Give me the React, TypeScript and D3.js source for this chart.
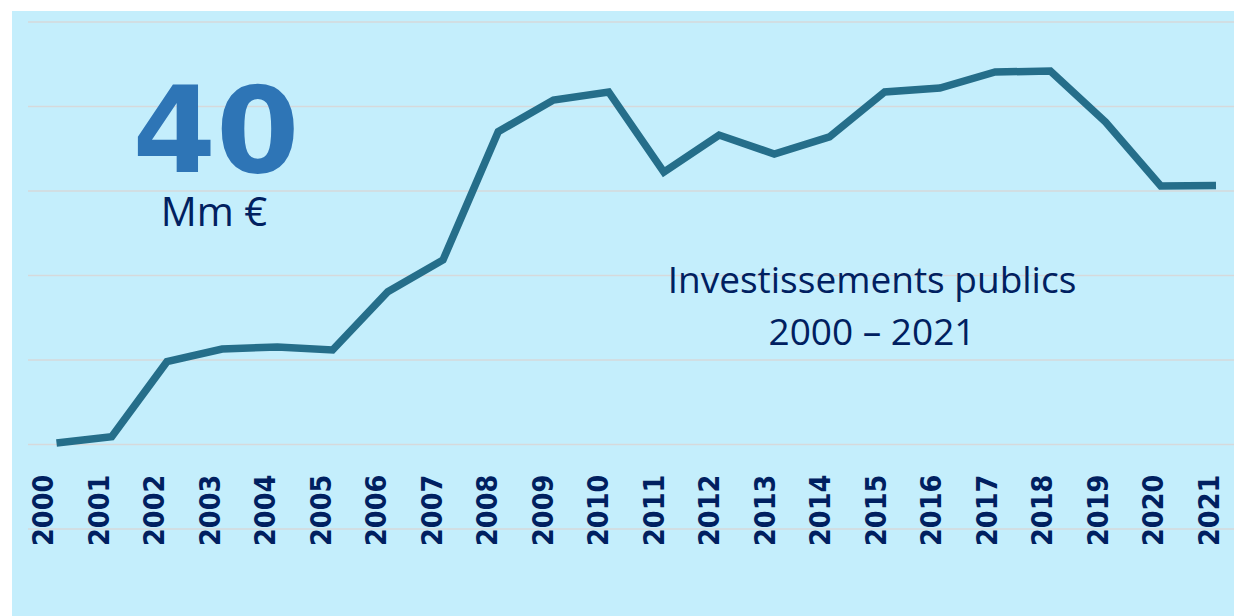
import React, { useEffect, useRef } from "react";
import * as d3 from "d3";

const years: string[] = [
  "2000", "2001", "2002", "2003", "2004", "2005", "2006", "2007", "2008", "2009", "2010",
  "2011", "2012", "2013", "2014", "2015", "2016", "2017", "2018", "2019", "2020", "2021",
];
const investment: number[] = [
  5.09, 5.46, 9.9, 10.65, 10.77, 10.59, 14.04, 15.92, 23.51, 25.38, 25.86,
  21.12, 23.31, 22.19, 23.2, 25.86, 26.09, 27.04, 27.1, 24.08, 20.3, 20.33,
];
const gridTicks: number[] = [0, 5, 10, 15, 20, 25, 30];
const bigValue = "40";
const unitLabel = "Mm €";
const titleLines: string[] = ["Investissements publics", "2000 – 2021"];

const W = 1234;
const H = 616;

export default function App() {
  const ref = useRef<SVGSVGElement | null>(null);

  useEffect(() => {
    const svg = d3.select(ref.current);
    svg.selectAll("*").remove();

    svg.append("rect")
      .attr("x", 12).attr("y", 11)
      .attr("width", W - 12).attr("height", H - 11)
      .attr("fill", "#C4EEFC");

    const x = d3.scalePoint<string>().domain(years).range([56.5, 1216]);
    const xLab = d3.scalePoint<string>().domain(years).range([53, 1219]);
    const y = d3.scaleLinear().domain([0, 30]).range([529, 22]);

    svg.append("g").selectAll("line").data(gridTicks).join("line")
      .attr("x1", 28).attr("x2", W)
      .attr("y1", (d) => y(d)).attr("y2", (d) => y(d))
      .attr("stroke", "#D6D9DB").attr("stroke-width", 1.5);

    const line = d3.line<number>()
      .x((_, i) => x(years[i]) as number)
      .y((d) => y(d));

    svg.append("path")
      .datum(investment)
      .attr("d", line)
      .attr("fill", "none")
      .attr("stroke", "#256E8A")
      .attr("stroke-width", 7.5)
      .attr("stroke-linejoin", "miter")
      .attr("stroke-linecap", "butt");

    svg.append("g").selectAll("text").data(years).join("text")
      .attr("transform", (d) => `translate(${xLab(d)},546) rotate(-90)`)
      .attr("text-anchor", "start")
      .attr("font-family", "'DejaVu Sans Condensed', 'DejaVu Sans', sans-serif")
      .attr("font-stretch", "condensed")
      .attr("font-weight", "bold")
      .attr("font-size", 28.5)
      .attr("fill", "#002060")
      .text((d) => d);

    svg.append("text")
      .attr("x", 216).attr("y", 172)
      .attr("text-anchor", "middle")
      .attr("font-family", "'DejaVu Sans', sans-serif")
      .attr("font-weight", "bold")
      .attr("font-size", 120)
      .attr("fill", "#2E75B6")
      .text(bigValue);

    svg.append("text")
      .attr("x", 214).attr("y", 226)
      .attr("text-anchor", "middle")
      .attr("font-family", "'Open Sans', sans-serif")
      .attr("font-size", 40)
      .attr("fill", "#002060")
      .text(unitLabel);

    svg.append("g").selectAll("text").data(titleLines).join("text")
      .attr("x", 872)
      .attr("y", (_, i) => 293 + i * 52)
      .attr("text-anchor", "middle")
      .attr("font-family", "'Open Sans', sans-serif")
      .attr("font-size", 37)
      .attr("fill", "#002060")
      .text((d) => d);
  }, []);

  return (
    <svg
      ref={ref}
      width={W}
      height={H}
      style={{ position: "absolute", left: 0, top: 0, display: "block" }}
    />
  );
}
